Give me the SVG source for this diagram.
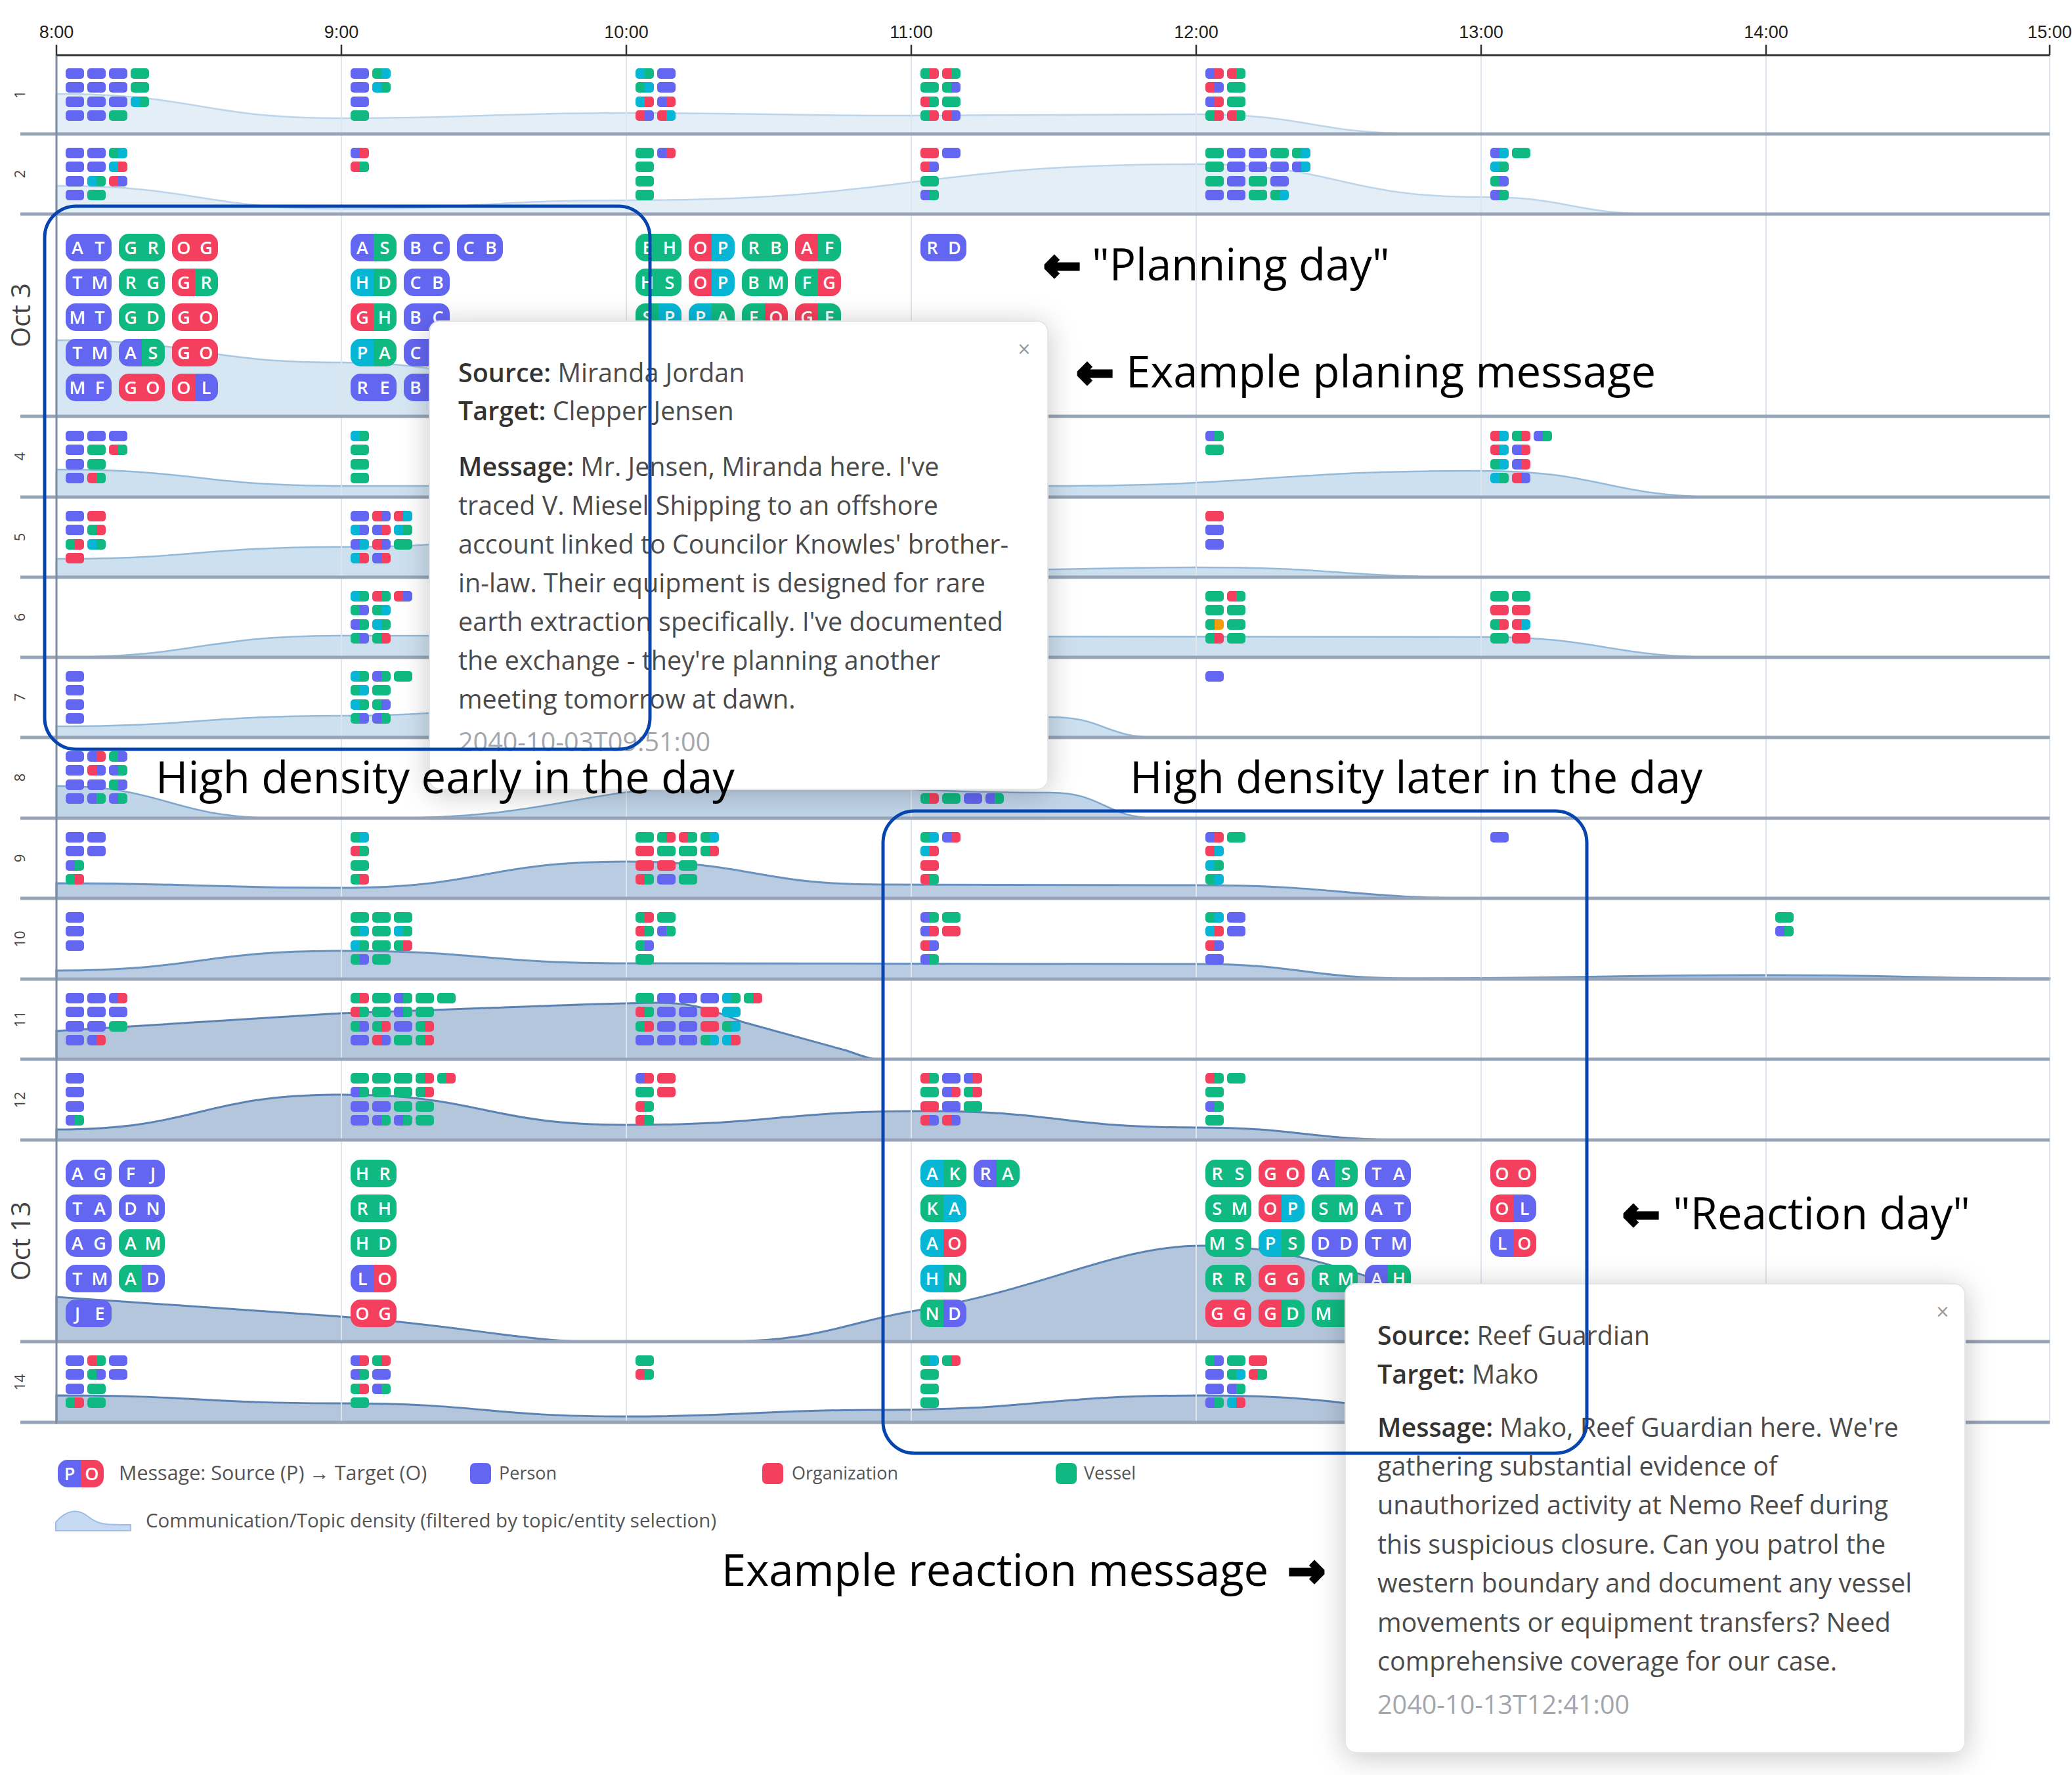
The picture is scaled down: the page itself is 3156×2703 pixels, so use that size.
<svg xmlns="http://www.w3.org/2000/svg" xmlns:xlink="http://www.w3.org/1999/xlink" width="3156" height="2703" viewBox="0 0 3156 2703">
<style>
.p{fill:#6366f1}.o{fill:#f43f5e}.v{fill:#10b981}.c{fill:#06b6d4}.y{fill:#f59e0b}
.t{font-family:"Open Sans","DejaVu Sans",sans-serif;font-size:27px;font-weight:600;fill:#fff;text-anchor:middle}
.sep{stroke:#97a4b7;stroke-width:5}
.grid{stroke:#dfe5ee;stroke-width:2}
.hr{font-family:"Liberation Sans",Arial,sans-serif;font-size:27px;fill:#222;text-anchor:middle}
.rl{font-family:"Open Sans",sans-serif;font-size:22px;fill:#444;text-anchor:middle}
.dl{font-family:"Open Sans",sans-serif;font-size:40px;fill:#444;text-anchor:middle}
.tt{font-family:"Open Sans",sans-serif;font-size:39.5px;fill:#4b4b4b}
.tb{font-weight:600;fill:#333}
.ts{fill:#a3a7ad}
.ann{font-family:"Open Sans",sans-serif;font-size:67px;fill:#000}
.arr{font-family:"DejaVu Sans",sans-serif;font-weight:bold;stroke:#000;stroke-width:5;stroke-linejoin:miter}
.lg{font-family:"Open Sans",sans-serif;font-size:27px;fill:#555}
.box{fill:none;stroke:#0645ad;stroke-width:5}
.tip{fill:#fff;stroke:#e3e5e9;stroke-width:2}
.x{font-family:"DejaVu Sans",sans-serif;font-size:26px;fill:#999;text-anchor:middle}
.d1{fill:#e3eef7;stroke:#bcd5ea;stroke-width:2.5}
.d2{fill:#d6e6f2;stroke:#a8c7e1;stroke-width:2.5}
.d3{fill:#cde0ef;stroke:#95bad9;stroke-width:2.5}
.d4{fill:#c1d5e9;stroke:#7fa6cc;stroke-width:2.5}
.d5{fill:#b9cce2;stroke:#6a92bf;stroke-width:3}
.d6{fill:#b4c6dc;stroke:#5b82b2;stroke-width:3}
</style>
<defs>
<filter id="sh" x="-20%" y="-20%" width="140%" height="140%"><feDropShadow dx="0" dy="6" stdDeviation="22" flood-color="#000" flood-opacity="0.22"/></filter>
<rect id="P" class="p" width="28" height="16" rx="5"/>
<rect id="O" class="o" width="28" height="16" rx="5"/>
<rect id="V" class="v" width="28" height="16" rx="5"/>
<rect id="C" class="c" width="28" height="16" rx="5"/>
<path id="hl" d="M5,0H14V16H5A5,5 0 0 1 0,11V5A5,5 0 0 1 5,0Z"/>
<path id="hr" d="M14,0H23A5,5 0 0 1 28,5V11A5,5 0 0 1 23,16H14Z"/>
<g id="PO"><use href="#hl" class="p"/><use href="#hr" class="o"/></g>
<g id="OP"><use href="#hl" class="o"/><use href="#hr" class="p"/></g>
<g id="PV"><use href="#hl" class="p"/><use href="#hr" class="v"/></g>
<g id="VP"><use href="#hl" class="v"/><use href="#hr" class="p"/></g>
<g id="PC"><use href="#hl" class="p"/><use href="#hr" class="c"/></g>
<g id="CP"><use href="#hl" class="c"/><use href="#hr" class="p"/></g>
<g id="OV"><use href="#hl" class="o"/><use href="#hr" class="v"/></g>
<g id="VO"><use href="#hl" class="v"/><use href="#hr" class="o"/></g>
<g id="OC"><use href="#hl" class="o"/><use href="#hr" class="c"/></g>
<g id="CO"><use href="#hl" class="c"/><use href="#hr" class="o"/></g>
<g id="VC"><use href="#hl" class="v"/><use href="#hr" class="c"/></g>
<g id="CV"><use href="#hl" class="c"/><use href="#hr" class="v"/></g>
<g id="VY"><use href="#hl" class="v"/><use href="#hr" class="y"/></g>
<rect id="bP" class="p" width="70" height="42" rx="15"/>
<rect id="bO" class="o" width="70" height="42" rx="15"/>
<rect id="bV" class="v" width="70" height="42" rx="15"/>
<path id="bl" d="M15,0H35V42H15A15,15 0 0 1 0,27V15A15,15 0 0 1 15,0Z"/>
<path id="br" d="M35,0H55A15,15 0 0 1 70,15V27A15,15 0 0 1 55,42H35Z"/>
<g id="bPV"><use href="#bl" class="p"/><use href="#br" class="v"/></g>
<g id="bVP"><use href="#bl" class="v"/><use href="#br" class="p"/></g>
<g id="bCV"><use href="#bl" class="c"/><use href="#br" class="v"/></g>
<g id="bVC"><use href="#bl" class="v"/><use href="#br" class="c"/></g>
<g id="bOV"><use href="#bl" class="o"/><use href="#br" class="v"/></g>
<g id="bVO"><use href="#bl" class="v"/><use href="#br" class="o"/></g>
<g id="bOP"><use href="#bl" class="o"/><use href="#br" class="p"/></g>
<g id="bPO"><use href="#bl" class="p"/><use href="#br" class="o"/></g>
<g id="bOC"><use href="#bl" class="o"/><use href="#br" class="c"/></g>
<g id="bCO"><use href="#bl" class="c"/><use href="#br" class="o"/></g>
</defs>
<rect width="3156" height="2703" fill="#fff"/>

<g id="density">
<path class="d1" d="M86,204 L86,143 C303,143 303,180 520,180 C737,180 737,172 954,172 C1171,172 1171,176 1388,176 C1605,176 1605,174 1822,174 C1997,174 1997,204 2172,204 Z"/>
<path class="d1" d="M86,326 L86,283 C303,283 303,318 520,318 C737,318 737,305 954,305 C1388,305 1388,250 1822,250 C2039,250 2039,300 2256,300 C2392,300 2392,326 2529,326 Z"/>
<path class="d2" d="M86,634 L86,518 C303,518 303,552 520,552 C760,552 760,620 1000,620 C1150,620 1150,634 1300,634 Z"/>
<path class="d3" d="M86,757 L86,715 C303,715 303,740 520,740 L1600,740 C1928,740 1928,717 2256,717 C2444,717 2444,757 2631,757 Z"/>
<path class="d3" d="M86,879 L86,851 C303,851 303,833 520,833 C760,833 760,805 1000,805 C1250,805 1250,868 1500,868 C1661,868 1661,864 1822,864 C2039,864 2039,879 2256,879 Z"/>
<path class="d3" d="M86,1001 C303,1001 303,968 520,968 L2256,970 C2444,970 2444,1001 2631,1001 Z"/>
<path class="d3" d="M86,1123 L86,1106 C303,1106 303,1090 520,1090 C760,1090 760,1060 1000,1060 C1300,1060 1300,1092 1600,1092 C1682,1092 1682,1123 1764,1123 Z"/>
<path class="d4" d="M86,1246 L86,1197 C257,1197 257,1246 428,1246 L582,1246 C866,1246 866,1195 1150,1195 C1375,1195 1375,1207 1600,1207 C1682,1207 1682,1246 1764,1246 Z"/>
<path class="d5" d="M86,1368 L86,1345 C303,1345 303,1352 520,1352 C737,1352 737,1312 954,1312 C1148,1312 1148,1347 1342,1347 L1821,1348 C2044,1348 2044,1368 2267,1368 Z"/>
<path class="d5" d="M86,1491 L86,1478 C303,1478 303,1448 520,1448 C737,1448 737,1467 954,1467 L1821,1468 C1986,1468 1986,1490 2151,1490 C2420,1490 2420,1485 2690,1485 C2906,1485 2906,1490 3122,1490 L3122,1491 Z"/>
<path class="d6" d="M86,1613 L86,1570 L520,1543 C760,1535 900,1528 1000,1527 C1060,1527 1090,1540 1130,1556 L1290,1600 C1310,1607 1325,1613 1337,1613 Z"/>
<path class="d6" d="M86,1736 L86,1720 C303,1720 303,1667 520,1667 C737,1667 737,1713 954,1713 C1182,1713 1182,1692 1410,1692 C1615,1692 1615,1717 1821,1717 C1986,1717 1986,1736 2151,1736 Z"/>
<path class="d6" d="M86,2043 L86,1975 L520,2005 C700,2018 800,2043 900,2043 L1100,2043 C1250,2043 1300,2010 1400,1995 C1600,1960 1700,1897 1831,1897 C2000,1897 2100,1960 2300,2010 C2400,2035 2450,2043 2500,2043 Z"/>
<path class="d6" d="M86,2166 L86,2125 C303,2125 303,2137 520,2137 C737,2137 737,2157 954,2157 C1147,2157 1147,2147 1340,2147 C1585,2147 1585,2125 1831,2125 C2115,2125 2115,2166 2400,2166 Z"/>
</g>

<g id="grid">
<line class="grid" x1="520" y1="84" x2="520" y2="2166"/>
<line class="grid" x1="954" y1="84" x2="954" y2="2166"/>
<line class="grid" x1="1388" y1="84" x2="1388" y2="2166"/>
<line class="grid" x1="1822" y1="84" x2="1822" y2="2166"/>
<line class="grid" x1="2256" y1="84" x2="2256" y2="2166"/>
<line class="grid" x1="2690" y1="84" x2="2690" y2="2166"/>
<line class="grid" x1="3122" y1="84" x2="3122" y2="2166"/>
<line class="sep" x1="31" y1="204" x2="3122" y2="204"/>
<line class="sep" x1="31" y1="326" x2="3122" y2="326"/>
<line class="sep" x1="31" y1="634" x2="3122" y2="634"/>
<line class="sep" x1="31" y1="757" x2="3122" y2="757"/>
<line class="sep" x1="31" y1="879" x2="3122" y2="879"/>
<line class="sep" x1="31" y1="1001" x2="3122" y2="1001"/>
<line class="sep" x1="31" y1="1123" x2="3122" y2="1123"/>
<line class="sep" x1="31" y1="1246" x2="3122" y2="1246"/>
<line class="sep" x1="31" y1="1368" x2="3122" y2="1368"/>
<line class="sep" x1="31" y1="1491" x2="3122" y2="1491"/>
<line class="sep" x1="31" y1="1613" x2="3122" y2="1613"/>
<line class="sep" x1="31" y1="1736" x2="3122" y2="1736"/>
<line class="sep" x1="31" y1="2043" x2="3122" y2="2043"/>
<line class="sep" x1="31" y1="2166" x2="3122" y2="2166"/>
<line x1="86" y1="84" x2="86" y2="2168" stroke="#7d8ca3" stroke-width="3"/>
</g>

<g id="axis">
<line x1="86" y1="84" x2="3122" y2="84" stroke="#333" stroke-width="3"/>
<path d="M86,68V84M520,68V84M954,68V84M1388,68V84M1822,68V84M2256,68V84M2690,68V84M3122,68V84" stroke="#333" stroke-width="2.5"/>
<text class="hr" x="86" y="58">8:00</text>
<text class="hr" x="520" y="58">9:00</text>
<text class="hr" x="954" y="58">10:00</text>
<text class="hr" x="1388" y="58">11:00</text>
<text class="hr" x="1822" y="58">12:00</text>
<text class="hr" x="2256" y="58">13:00</text>
<text class="hr" x="2690" y="58">14:00</text>
<text class="hr" x="3122" y="58">15:00</text>
</g>

<g id="row-labels">
<text class="rl" transform="translate(38,144) rotate(-90)">1</text>
<text class="rl" transform="translate(38,265) rotate(-90)">2</text>
<text class="dl" transform="translate(46,480) rotate(-90)">Oct 3</text>
<text class="rl" transform="translate(38,695) rotate(-90)">4</text>
<text class="rl" transform="translate(38,818) rotate(-90)">5</text>
<text class="rl" transform="translate(38,940) rotate(-90)">6</text>
<text class="rl" transform="translate(38,1062) rotate(-90)">7</text>
<text class="rl" transform="translate(38,1184) rotate(-90)">8</text>
<text class="rl" transform="translate(38,1307) rotate(-90)">9</text>
<text class="rl" transform="translate(38,1430) rotate(-90)">10</text>
<text class="rl" transform="translate(38,1552) rotate(-90)">11</text>
<text class="rl" transform="translate(38,1675) rotate(-90)">12</text>
<text class="dl" transform="translate(46,1890) rotate(-90)">Oct 13</text>
<text class="rl" transform="translate(38,2105) rotate(-90)">14</text>
</g>

<g id="row1">
<g transform="translate(100,104)"><use href="#P"/><use href="#P" y="21"/><use href="#P" y="43"/><use href="#P" y="64"/><use href="#P" x="33"/><use href="#P" x="33" y="21"/><use href="#P" x="33" y="43"/><use href="#P" x="33" y="64"/><use href="#P" x="66"/><use href="#P" x="66" y="21"/><use href="#P" x="66" y="43"/><use href="#V" x="66" y="64"/><use href="#V" x="99"/><use href="#V" x="99" y="21"/><use href="#CV" x="99" y="43"/></g>
<g transform="translate(534,104)"><use href="#P"/><use href="#P" y="21"/><use href="#P" y="43"/><use href="#V" y="64"/><use href="#VC" x="33"/><use href="#CV" x="33" y="21"/></g>
<g transform="translate(968,104)"><use href="#CV"/><use href="#VC" y="21"/><use href="#CO" y="43"/><use href="#OP" y="64"/><use href="#P" x="33"/><use href="#P" x="33" y="21"/><use href="#PO" x="33" y="43"/><use href="#OC" x="33" y="64"/></g>
<g transform="translate(1402,104)"><use href="#VO"/><use href="#V" y="21"/><use href="#OV" y="43"/><use href="#VO" y="64"/><use href="#OV" x="33"/><use href="#VP" x="33" y="21"/><use href="#V" x="33" y="43"/><use href="#OP" x="33" y="64"/></g>
<g transform="translate(1836,104)"><use href="#PO"/><use href="#OP" y="21"/><use href="#PO" y="43"/><use href="#VO" y="64"/><use href="#OV" x="33"/><use href="#V" x="33" y="21"/><use href="#V" x="33" y="43"/><use href="#OV" x="33" y="64"/></g>
</g>

<g id="row2">
<g transform="translate(100,225)"><use href="#P"/><use href="#P" y="21"/><use href="#P" y="43"/><use href="#P" y="64"/><use href="#P" x="33"/><use href="#P" x="33" y="21"/><use href="#CV" x="33" y="43"/><use href="#V" x="33" y="64"/><use href="#VC" x="66"/><use href="#CO" x="66" y="21"/><use href="#OP" x="66" y="43"/></g>
<g transform="translate(534,225)"><use href="#PO"/><use href="#OV" y="21"/></g>
<g transform="translate(968,225)"><use href="#V"/><use href="#V" y="21"/><use href="#V" y="43"/><use href="#V" y="64"/><use href="#PO" x="33"/></g>
<g transform="translate(1402,225)"><use href="#O"/><use href="#OP" y="21"/><use href="#V" y="43"/><use href="#PV" y="64"/><use href="#P" x="33"/></g>
<g transform="translate(1836,225)"><use href="#V"/><use href="#V" y="21"/><use href="#V" y="43"/><use href="#P" y="64"/><use href="#P" x="33"/><use href="#P" x="33" y="21"/><use href="#P" x="33" y="43"/><use href="#P" x="33" y="64"/><use href="#P" x="66"/><use href="#P" x="66" y="21"/><use href="#V" x="66" y="43"/><use href="#V" x="66" y="64"/><use href="#V" x="99"/><use href="#P" x="99" y="21"/><use href="#P" x="99" y="43"/><use href="#VC" x="99" y="64"/><use href="#VC" x="132"/><use href="#PC" x="132" y="21"/></g>
<g transform="translate(2270,225)"><use href="#PC"/><use href="#CV" y="21"/><use href="#VP" y="43"/><use href="#PV" y="64"/><use href="#V" x="33"/></g>
</g>

<g id="row-oct3">
<g transform="translate(100,356)">
<use href="#bP"/><text class="t" x="18 35 52" y="31">A T</text>
<use href="#bP" y="53"/><text class="t" x="18 35 52" y="84">T M</text>
<use href="#bP" y="106"/><text class="t" x="18 35 52" y="137">M T</text>
<use href="#bP" y="160"/><text class="t" x="18 35 52" y="191">T M</text>
<use href="#bP" y="213"/><text class="t" x="18 35 52" y="244">M F</text>
<use href="#bV" x="81"/><text class="t" x="99 116 133" y="31">G R</text>
<use href="#bV" x="81" y="53"/><text class="t" x="99 116 133" y="84">R G</text>
<use href="#bV" x="81" y="106"/><text class="t" x="99 116 133" y="137">G D</text>
<use href="#bPV" x="81" y="160"/><text class="t" x="99 116 133" y="191">A S</text>
<use href="#bO" x="81" y="213"/><text class="t" x="99 116 133" y="244">G O</text>
<use href="#bO" x="162"/><text class="t" x="180 197 214" y="31">O G</text>
<use href="#bOV" x="162" y="53"/><text class="t" x="180 197 214" y="84">G R</text>
<use href="#bO" x="162" y="106"/><text class="t" x="180 197 214" y="137">G O</text>
<use href="#bO" x="162" y="160"/><text class="t" x="180 197 214" y="191">G O</text>
<use href="#bOP" x="162" y="213"/><text class="t" x="180 197 214" y="244">O L</text>
</g>
<g transform="translate(534,356)">
<use href="#bPV"/><text class="t" x="18 35 52" y="31">A S</text>
<use href="#bCV" y="53"/><text class="t" x="18 35 52" y="84">H D</text>
<use href="#bOV" y="106"/><text class="t" x="18 35 52" y="137">G H</text>
<use href="#bCV" y="160"/><text class="t" x="18 35 52" y="191">P A</text>
<use href="#bP" y="213"/><text class="t" x="18 35 52" y="244">R E</text>
<use href="#bP" x="81"/><text class="t" x="99 116 133" y="31">B C</text>
<use href="#bP" x="81" y="53"/><text class="t" x="99 116 133" y="84">C B</text>
<use href="#bP" x="81" y="106"/><text class="t" x="99 116 133" y="137">B C</text>
<use href="#bP" x="81" y="160"/><text class="t" x="99" y="191">C</text>
<use href="#bP" x="81" y="213"/><text class="t" x="99" y="244">B</text>
<use href="#bP" x="162"/><text class="t" x="180 197 214" y="31">C B</text>
</g>
<g transform="translate(968,356)">
<use href="#bV"/><text class="t" x="18 35 52" y="31">E H</text>
<use href="#bV" y="53"/><text class="t" x="18 35 52" y="84">H S</text>
<use href="#bVC" y="106"/><text class="t" x="18 35 52" y="137">S P</text>
<use href="#bOC" x="81"/><text class="t" x="99 116 133" y="31">O P</text>
<use href="#bOC" x="81" y="53"/><text class="t" x="99 116 133" y="84">O P</text>
<use href="#bCV" x="81" y="106"/><text class="t" x="99 116 133" y="137">P A</text>
<use href="#bV" x="162"/><text class="t" x="180 197 214" y="31">R B</text>
<use href="#bV" x="162" y="53"/><text class="t" x="180 197 214" y="84">B M</text>
<use href="#bVO" x="162" y="106"/><text class="t" x="180 197 214" y="137">F O</text>
<use href="#bOV" x="243"/><text class="t" x="261 278 295" y="31">A F</text>
<use href="#bVO" x="243" y="53"/><text class="t" x="261 278 295" y="84">F G</text>
<use href="#bOV" x="243" y="106"/><text class="t" x="261 278 295" y="137">G F</text>
</g>
<g transform="translate(1402,356)"><use href="#bP"/><text class="t" x="18 35 52" y="31">R D</text></g>
</g>

<g id="row4">
<g transform="translate(100,656)"><use href="#P"/><use href="#P" y="21"/><use href="#P" y="43"/><use href="#P" y="64"/><use href="#P" x="33"/><use href="#V" x="33" y="21"/><use href="#V" x="33" y="43"/><use href="#OV" x="33" y="64"/><use href="#P" x="66"/><use href="#OV" x="66" y="21"/></g>
<g transform="translate(534,656)"><use href="#CV"/><use href="#V" y="21"/><use href="#V" y="43"/><use href="#V" y="64"/></g>
<g transform="translate(1836,656)"><use href="#PV"/><use href="#V" y="21"/></g>
<g transform="translate(2270,656)"><use href="#OC"/><use href="#OC" y="21"/><use href="#VC" y="43"/><use href="#CV" y="64"/><use href="#VO" x="33"/><use href="#PO" x="33" y="21"/><use href="#PO" x="33" y="43"/><use href="#OP" x="33" y="64"/><use href="#PV" x="66"/></g>
</g>

<g id="row5">
<g transform="translate(100,778)"><use href="#P"/><use href="#P" y="21"/><use href="#VO" y="43"/><use href="#O" y="64"/><use href="#O" x="33"/><use href="#VO" x="33" y="21"/><use href="#CV" x="33" y="43"/></g>
<g transform="translate(534,778)"><use href="#P"/><use href="#CP" y="21"/><use href="#PC" y="43"/><use href="#CO" y="64"/><use href="#OP" x="33"/><use href="#PO" x="33" y="21"/><use href="#OP" x="33" y="43"/><use href="#PO" x="33" y="64"/><use href="#OC" x="66"/><use href="#CV" x="66" y="21"/><use href="#V" x="66" y="43"/></g>
<g transform="translate(1836,778)"><use href="#O"/><use href="#P" y="21"/><use href="#P" y="43"/></g>
</g>

<g id="row6">
<g transform="translate(534,900)"><use href="#CV"/><use href="#VP" y="21"/><use href="#PV" y="43"/><use href="#VP" y="64"/><use href="#OV" x="33"/><use href="#VC" x="33" y="21"/><use href="#CV" x="33" y="43"/><use href="#VO" x="33" y="64"/><use href="#OP" x="66"/></g>
<g transform="translate(1836,900)"><use href="#V"/><use href="#V" y="21"/><use href="#VY" y="43"/><use href="#VO" y="64"/><use href="#OV" x="33"/><use href="#V" x="33" y="21"/><use href="#V" x="33" y="43"/><use href="#V" x="33" y="64"/></g>
<g transform="translate(2270,900)"><use href="#V"/><use href="#O" y="21"/><use href="#VO" y="43"/><use href="#V" y="64"/><use href="#V" x="33"/><use href="#O" x="33" y="21"/><use href="#OC" x="33" y="43"/><use href="#O" x="33" y="64"/></g>
</g>

<g id="row7">
<g transform="translate(100,1022)"><use href="#P"/><use href="#P" y="21"/><use href="#P" y="43"/><use href="#P" y="64"/></g>
<g transform="translate(534,1022)"><use href="#CV"/><use href="#VC" y="21"/><use href="#CV" y="43"/><use href="#VP" y="64"/><use href="#PV" x="33"/><use href="#V" x="33" y="21"/><use href="#VP" x="33" y="43"/><use href="#PV" x="33" y="64"/><use href="#V" x="66"/></g>
<g transform="translate(1836,1022)"><use href="#P"/></g>
</g>

<g id="row8">
<g transform="translate(100,1144)"><use href="#P"/><use href="#P" y="21"/><use href="#P" y="43"/><use href="#P" y="64"/><use href="#PO" x="33"/><use href="#OP" x="33" y="21"/><use href="#P" x="33" y="43"/><use href="#PV" x="33" y="64"/><use href="#VP" x="66"/><use href="#PV" x="66" y="21"/><use href="#VP" x="66" y="43"/><use href="#PV" x="66" y="64"/></g>
<g transform="translate(1402,1144)"><use href="#VO" y="64"/><use href="#V" x="33" y="64"/><use href="#P" x="66" y="64"/><use href="#PV" x="99" y="64"/></g>
</g>

<g id="row9">
<g transform="translate(100,1267)"><use href="#P"/><use href="#P" y="21"/><use href="#PV" y="43"/><use href="#VO" y="64"/><use href="#P" x="33"/><use href="#P" x="33" y="21"/></g>
<g transform="translate(534,1267)"><use href="#VC"/><use href="#OV" y="21"/><use href="#V" y="43"/><use href="#VO" y="64"/></g>
<g transform="translate(968,1267)"><use href="#V"/><use href="#O" y="21"/><use href="#O" y="43"/><use href="#OV" y="64"/><use href="#VO" x="33"/><use href="#V" x="33" y="21"/><use href="#O" x="33" y="43"/><use href="#P" x="33" y="64"/><use href="#OV" x="66"/><use href="#V" x="66" y="21"/><use href="#V" x="66" y="43"/><use href="#V" x="66" y="64"/><use href="#VC" x="99"/><use href="#VO" x="99" y="21"/></g>
<g transform="translate(1402,1267)"><use href="#VC"/><use href="#CO" y="21"/><use href="#O" y="43"/><use href="#OV" y="64"/><use href="#PO" x="33"/></g>
<g transform="translate(1836,1267)"><use href="#PO"/><use href="#OC" y="21"/><use href="#CV" y="43"/><use href="#VC" y="64"/><use href="#V" x="33"/></g>
<g transform="translate(2270,1267)"><use href="#P"/></g>
</g>

<g id="row10">
<g transform="translate(100,1389)"><use href="#P"/><use href="#P" y="21"/><use href="#P" y="43"/></g>
<g transform="translate(534,1389)"><use href="#V"/><use href="#VC" y="21"/><use href="#CV" y="43"/><use href="#VP" y="64"/><use href="#V" x="33"/><use href="#V" x="33" y="21"/><use href="#V" x="33" y="43"/><use href="#V" x="33" y="64"/><use href="#V" x="66"/><use href="#CV" x="66" y="21"/><use href="#VO" x="66" y="43"/></g>
<g transform="translate(968,1389)"><use href="#VO"/><use href="#OV" y="21"/><use href="#VP" y="43"/><use href="#V" y="64"/><use href="#V" x="33"/><use href="#PV" x="33" y="21"/></g>
<g transform="translate(1402,1389)"><use href="#PV"/><use href="#PO" y="21"/><use href="#OP" y="43"/><use href="#PV" y="64"/><use href="#V" x="33"/><use href="#O" x="33" y="21"/></g>
<g transform="translate(1836,1389)"><use href="#VC"/><use href="#CO" y="21"/><use href="#OP" y="43"/><use href="#P" y="64"/><use href="#P" x="33"/><use href="#P" x="33" y="21"/></g>
<g transform="translate(2704,1389)"><use href="#V"/><use href="#PV" y="21"/></g>
</g>

<g id="row11">
<g transform="translate(100,1512)"><use href="#P"/><use href="#P" y="21"/><use href="#P" y="43"/><use href="#P" y="64"/><use href="#P" x="33"/><use href="#P" x="33" y="21"/><use href="#P" x="33" y="43"/><use href="#PO" x="33" y="64"/><use href="#PO" x="66"/><use href="#P" x="66" y="21"/><use href="#V" x="66" y="43"/></g>
<g transform="translate(534,1512)"><use href="#VO"/><use href="#OV" y="21"/><use href="#VP" y="43"/><use href="#P" y="64"/><use href="#V" x="33"/><use href="#V" x="33" y="21"/><use href="#VO" x="33" y="43"/><use href="#OP" x="33" y="64"/><use href="#PV" x="66"/><use href="#PV" x="66" y="21"/><use href="#P" x="66" y="43"/><use href="#V" x="66" y="64"/><use href="#V" x="99"/><use href="#V" x="99" y="21"/><use href="#VO" x="99" y="43"/><use href="#VO" x="99" y="64"/><use href="#V" x="132"/></g>
<g transform="translate(968,1512)"><use href="#V"/><use href="#OV" y="21"/><use href="#VO" y="43"/><use href="#P" y="64"/><use href="#P" x="33"/><use href="#P" x="33" y="21"/><use href="#P" x="33" y="43"/><use href="#P" x="33" y="64"/><use href="#P" x="66"/><use href="#P" x="66" y="21"/><use href="#P" x="66" y="43"/><use href="#P" x="66" y="64"/><use href="#P" x="99"/><use href="#O" x="99" y="21"/><use href="#O" x="99" y="43"/><use href="#VC" x="99" y="64"/><use href="#CV" x="132"/><use href="#C" x="132" y="21"/><use href="#VC" x="132" y="43"/><use href="#CO" x="132" y="64"/><use href="#VO" x="165"/></g>
</g>

<g id="row12">
<g transform="translate(100,1634)"><use href="#P"/><use href="#P" y="21"/><use href="#P" y="43"/><use href="#PV" y="64"/></g>
<g transform="translate(534,1634)"><use href="#V"/><use href="#PV" y="21"/><use href="#P" y="43"/><use href="#P" y="64"/><use href="#V" x="33"/><use href="#V" x="33" y="21"/><use href="#P" x="33" y="43"/><use href="#PV" x="33" y="64"/><use href="#V" x="66"/><use href="#V" x="66" y="21"/><use href="#V" x="66" y="43"/><use href="#PV" x="66" y="64"/><use href="#VO" x="99"/><use href="#VO" x="99" y="21"/><use href="#V" x="99" y="43"/><use href="#V" x="99" y="64"/><use href="#VO" x="132"/></g>
<g transform="translate(968,1634)"><use href="#PO"/><use href="#V" y="21"/><use href="#OV" y="43"/><use href="#OV" y="64"/><use href="#O" x="33"/><use href="#O" x="33" y="21"/></g>
<g transform="translate(1402,1634)"><use href="#OV"/><use href="#V" y="21"/><use href="#O" y="43"/><use href="#OP" y="64"/><use href="#P" x="33"/><use href="#PO" x="33" y="21"/><use href="#P" x="33" y="43"/><use href="#OP" x="33" y="64"/><use href="#PO" x="66"/><use href="#VO" x="66" y="21"/><use href="#V" x="66" y="43"/></g>
<g transform="translate(1836,1634)"><use href="#OV"/><use href="#V" y="21"/><use href="#PV" y="43"/><use href="#V" y="64"/><use href="#V" x="33"/></g>
</g>

<g id="row-oct13">
<g transform="translate(100,1766)">
<use href="#bP"/><text class="t" x="18 35 52" y="31">A G</text>
<use href="#bP" y="53"/><text class="t" x="18 35 52" y="84">T A</text>
<use href="#bP" y="106"/><text class="t" x="18 35 52" y="137">A G</text>
<use href="#bP" y="160"/><text class="t" x="18 35 52" y="191">T M</text>
<use href="#bP" y="213"/><text class="t" x="18 35 52" y="244">J E</text>
<use href="#bP" x="81"/><text class="t" x="99 116 133" y="31">F J</text>
<use href="#bP" x="81" y="53"/><text class="t" x="99 116 133" y="84">D N</text>
<use href="#bV" x="81" y="106"/><text class="t" x="99 116 133" y="137">A M</text>
<use href="#bVP" x="81" y="160"/><text class="t" x="99 116 133" y="191">A D</text>
</g>
<g transform="translate(534,1766)">
<use href="#bV"/><text class="t" x="18 35 52" y="31">H R</text>
<use href="#bV" y="53"/><text class="t" x="18 35 52" y="84">R H</text>
<use href="#bV" y="106"/><text class="t" x="18 35 52" y="137">H D</text>
<use href="#bPO" y="160"/><text class="t" x="18 35 52" y="191">L O</text>
<use href="#bO" y="213"/><text class="t" x="18 35 52" y="244">O G</text>
</g>
<g transform="translate(1402,1766)">
<use href="#bCV"/><text class="t" x="18 35 52" y="31">A K</text>
<use href="#bVC" y="53"/><text class="t" x="18 35 52" y="84">K A</text>
<use href="#bCO" y="106"/><text class="t" x="18 35 52" y="137">A O</text>
<use href="#bCV" y="160"/><text class="t" x="18 35 52" y="191">H N</text>
<use href="#bVP" y="213"/><text class="t" x="18 35 52" y="244">N D</text>
<use href="#bPV" x="81"/><text class="t" x="99 116 133" y="31">R A</text>
</g>
<g transform="translate(1836,1766)">
<use href="#bV"/><text class="t" x="18 35 52" y="31">R S</text>
<use href="#bV" y="53"/><text class="t" x="18 35 52" y="84">S M</text>
<use href="#bV" y="106"/><text class="t" x="18 35 52" y="137">M S</text>
<use href="#bV" y="160"/><text class="t" x="18 35 52" y="191">R R</text>
<use href="#bO" y="213"/><text class="t" x="18 35 52" y="244">G G</text>
<use href="#bO" x="81"/><text class="t" x="99 116 133" y="31">G O</text>
<use href="#bOC" x="81" y="53"/><text class="t" x="99 116 133" y="84">O P</text>
<use href="#bCV" x="81" y="106"/><text class="t" x="99 116 133" y="137">P S</text>
<use href="#bO" x="81" y="160"/><text class="t" x="99 116 133" y="191">G G</text>
<use href="#bOV" x="81" y="213"/><text class="t" x="99 116 133" y="244">G D</text>
<use href="#bPV" x="162"/><text class="t" x="180 197 214" y="31">A S</text>
<use href="#bV" x="162" y="53"/><text class="t" x="180 197 214" y="84">S M</text>
<use href="#bP" x="162" y="106"/><text class="t" x="180 197 214" y="137">D D</text>
<use href="#bV" x="162" y="160"/><text class="t" x="180 197 214" y="191">R M</text>
<use href="#bV" x="162" y="213"/><text class="t" x="180" y="244">M</text>
<use href="#bP" x="243"/><text class="t" x="261 278 295" y="31">T A</text>
<use href="#bP" x="243" y="53"/><text class="t" x="261 278 295" y="84">A T</text>
<use href="#bP" x="243" y="106"/><text class="t" x="261 278 295" y="137">T M</text>
<use href="#bPV" x="243" y="160"/><text class="t" x="261 278 295" y="191">A H</text>
</g>
<g transform="translate(2270,1766)">
<use href="#bO"/><text class="t" x="18 35 52" y="31">O O</text>
<use href="#bOP" y="53"/><text class="t" x="18 35 52" y="84">O L</text>
<use href="#bPO" y="106"/><text class="t" x="18 35 52" y="137">L O</text>
</g>
</g>

<g id="row14">
<g transform="translate(100,2064)"><use href="#P"/><use href="#P" y="21"/><use href="#P" y="43"/><use href="#VO" y="64"/><use href="#OV" x="33"/><use href="#VP" x="33" y="21"/><use href="#V" x="33" y="43"/><use href="#V" x="33" y="64"/><use href="#P" x="66"/><use href="#P" x="66" y="21"/></g>
<g transform="translate(534,2064)"><use href="#PO"/><use href="#PV" y="21"/><use href="#VO" y="43"/><use href="#V" y="64"/><use href="#VO" x="33"/><use href="#P" x="33" y="21"/><use href="#PV" x="33" y="43"/></g>
<g transform="translate(968,2064)"><use href="#V"/><use href="#OV" y="21"/></g>
<g transform="translate(1402,2064)"><use href="#VC"/><use href="#V" y="21"/><use href="#V" y="43"/><use href="#V" y="64"/><use href="#VO" x="33"/></g>
<g transform="translate(1836,2064)"><use href="#VP"/><use href="#P" y="21"/><use href="#P" y="43"/><use href="#PV" y="64"/><use href="#V" x="33"/><use href="#VC" x="33" y="21"/><use href="#PV" x="33" y="43"/><use href="#CO" x="33" y="64"/><use href="#O" x="66"/><use href="#OV" x="66" y="21"/></g>
</g>

<g id="legend">
<g transform="translate(88,2223)"><use href="#bPO"/><text class="t" x="18 35 52" y="31">P O</text></g>
<text class="lg" x="181" y="2254" style="font-size:30.5px">Message: Source (P) → Target (O)</text>
<rect x="716" y="2228" width="32" height="32" rx="7" class="p"/>
<text class="lg" x="760" y="2253">Person</text>
<rect x="1161" y="2228" width="32" height="32" rx="7" class="o"/>
<text class="lg" x="1206" y="2253">Organization</text>
<rect x="1608" y="2228" width="32" height="32" rx="7" class="v"/>
<text class="lg" x="1651" y="2253">Vessel</text>
<path d="M85,2331 L85,2318 C100,2300 118,2296 135,2310 C150,2322 160,2322 199,2322 L199,2331 Z" fill="#c6daf4" stroke="#9dbde6" stroke-width="2"/>
<text class="lg" x="222" y="2326" style="font-size:29.5px">Communication/Topic density (filtered by topic/entity selection)</text>
</g>

<g id="tooltip-planning">
<rect class="tip" x="654" y="489" width="942" height="713" rx="16" filter="url(#sh)"/>
<text class="x" x="1560" y="540">×</text>
<text class="tt" x="698" y="582"><tspan class="tb">Source:</tspan> Miranda Jordan</text>
<text class="tt" x="698" y="640"><tspan class="tb">Target:</tspan> Clepper Jensen</text>
<text class="tt" x="698" y="725"><tspan class="tb">Message:</tspan> Mr. Jensen, Miranda here. I've</text>
<text class="tt" x="698" y="784">traced V. Miesel Shipping to an offshore</text>
<text class="tt" x="698" y="843">account linked to Councilor Knowles' brother-</text>
<text class="tt" x="698" y="902">in-law. Their equipment is designed for rare</text>
<text class="tt" x="698" y="961">earth extraction specifically. I've documented</text>
<text class="tt" x="698" y="1020">the exchange - they're planning another</text>
<text class="tt" x="698" y="1079">meeting tomorrow at dawn.</text>
<text class="tt ts" x="698" y="1144">2040-10-03T09:51:00</text>
</g>

<g id="tooltip-reaction">
<rect class="tip" x="2049" y="1955" width="944" height="714" rx="16" filter="url(#sh)"/>
<text class="x" x="2959" y="2006">×</text>
<text class="tt" x="2098" y="2048"><tspan class="tb">Source:</tspan> Reef Guardian</text>
<text class="tt" x="2098" y="2107"><tspan class="tb">Target:</tspan> Mako</text>
<text class="tt" x="2098" y="2188"><tspan class="tb">Message:</tspan> Mako, Reef Guardian here. We're</text>
<text class="tt" x="2098" y="2247">gathering substantial evidence of</text>
<text class="tt" x="2098" y="2306">unauthorized activity at Nemo Reef during</text>
<text class="tt" x="2098" y="2366">this suspicious closure. Can you patrol the</text>
<text class="tt" x="2098" y="2425">western boundary and document any vessel</text>
<text class="tt" x="2098" y="2485">movements or equipment transfers? Need</text>
<text class="tt" x="2098" y="2544">comprehensive coverage for our case.</text>
<text class="tt ts" x="2098" y="2610">2040-10-13T12:41:00</text>
</g>

<g id="highlights">
<rect class="box" x="68" y="314" width="922" height="827" rx="48"/>
<rect class="box" x="1345" y="1235" width="1072" height="978" rx="48"/>
</g>

<g id="annotations">
<text class="ann" y="427"><tspan class="arr" x="1590">←</tspan><tspan x="1663">"Planning day"</tspan></text>
<text class="ann" y="590"><tspan class="arr" x="1640">←</tspan><tspan x="1715">Example planing message</tspan></text>
<text class="ann" x="237" y="1208">High density early in the day</text>
<text class="ann" x="1721" y="1208">High density later in the day</text>
<text class="ann" y="1872"><tspan class="arr" x="2472">←</tspan><tspan x="2548">"Reaction day"</tspan></text>
<text class="ann" y="2415"><tspan x="1099">Example reaction message</tspan><tspan class="arr" x="1962">→</tspan></text>
</g>
</svg>
